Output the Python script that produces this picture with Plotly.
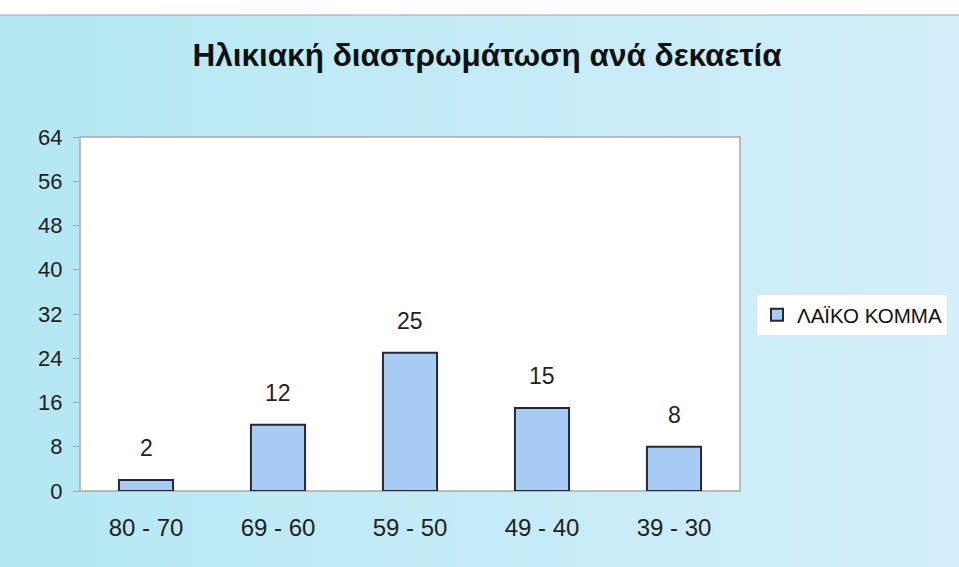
import plotly.graph_objects as go

categories = ["80 - 70", "69 - 60", "59 - 50", "49 - 40", "39 - 30"]
values = [2, 12, 25, 15, 8]
series_name = "ΛΑΪΚΟ ΚΟΜΜΑ"
y_ticks = [0, 8, 16, 24, 32, 40, 48, 56, 64]
title_text = "Ηλικιακή διαστρωμάτωση ανά δεκαετία"

W, H = 959, 567
ML, MR, MT, MB = 80, 219, 137, 76
PH = H - MT - MB
PW = W - ML - MR

fig = go.Figure()
fig.add_trace(go.Bar(
    x=categories, y=values, name=series_name,
    marker=dict(color="#a7cbf2", line=dict(color="#262838", width=2)),
    width=0.41, showlegend=True,
))

for c, v in zip(categories, values):
    fig.add_annotation(x=c, y=v, text=str(v), showarrow=False, yshift=32,
                       font=dict(size=23, color="#222222", family="Liberation Sans, Arial"))

# background gradient (left cyan -> right lighter blue)
shapes = []
n = 40
c0 = (180, 232, 243)
c1 = (212, 238, 251)
for i in range(n):
    t = i / (n - 1)
    col = tuple(int(round(c0[k] + (c1[k] - c0[k]) * t)) for k in range(3))
    x0 = (-ML + W * i / n) / PW
    x1 = (-ML + W * (i + 1) / n + 1) / PW
    shapes.append(dict(type="rect", xref="paper", yref="paper", x0=x0, x1=x1,
                       y0=-MB / PH - 0.01, y1=(H - MB - 15) / PH, layer="below",
                       fillcolor="rgb(%d,%d,%d)" % col, line=dict(width=0)))
# white band at top
shapes.append(dict(type="rect", xref="paper", yref="paper",
                   x0=-ML / PW - 0.01, x1=(W - ML) / PW + 0.01,
                   y0=(H - MB - 15) / PH, y1=(H - MB) / PH + 0.01, layer="below",
                   fillcolor="white", line=dict(width=0)))
shapes.append(dict(type="line", xref="paper", yref="paper",
                   x0=-ML / PW, x1=(W - ML) / PW,
                   y0=(H - MB - 15) / PH, y1=(H - MB - 15) / PH, layer="below",
                   line=dict(color="#9aa5aa", width=1)))
# plot area white box
shapes.append(dict(type="rect", xref="paper", yref="paper", x0=0, x1=1, y0=0, y1=1,
                   layer="below", fillcolor="white", line=dict(color="#a8a8a8", width=1.5)))

fig.update_layout(
    width=W, height=H, autosize=False,
    margin=dict(l=ML, r=MR, t=MT, b=MB, autoexpand=False),
    paper_bgcolor="#c6eef5",
    plot_bgcolor="rgba(0,0,0,0)",
    shapes=shapes,
    title=dict(text="<b>" + title_text + "</b>", x=487 / W, xanchor="center",
               y=1 - 55 / H, yanchor="middle",
               font=dict(size=31.5, color="#111111", family="Liberation Sans, Arial")),
    font=dict(family="Liberation Sans, Arial", color="#222222"),
    xaxis=dict(showgrid=False, showline=False, ticks="",
               tickfont=dict(size=24, color="#222222"), ticklabelstandoff=20),
    yaxis=dict(range=[0, 64], tickvals=y_ticks, showgrid=False, zeroline=False,
               showline=False, ticks="outside", ticklen=6, tickcolor="#9aa0a0",
               tickfont=dict(size=22, color="#222222"), ticklabelstandoff=6),
    legend=dict(x=(756 - ML) / PW, y=(H - MB - 315) / PH, xanchor="left", yanchor="middle",
                bgcolor="white", bordercolor="#e4e4e4", borderwidth=1,
                font=dict(size=20.5, color="#111111"), itemwidth=30),
    bargap=0.59,
)

fig.write_html("out.html",
               config={"responsive": False, "displayModeBar": False},
               post_script="document.body.style.margin='0';document.body.style.overflow='hidden';")
